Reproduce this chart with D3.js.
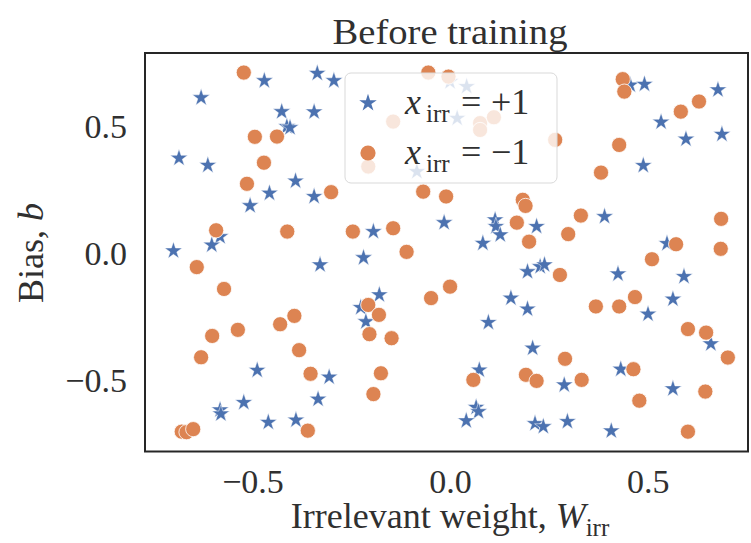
<!DOCTYPE html>
<html>
<head>
<meta charset="utf-8">
<script src="https://cdn.jsdelivr.net/npm/d3@7"></script>
<style>
  body { margin: 0; background: #fff; }
  text { font-family: "Liberation Serif", "Times New Roman", serif; fill: #303030; }
</style>
</head>
<body>
<div id="chart"></div>
<script>
// x_irr = +1 (stars)  [W_irr, b]
const plusPoints = [
  [-0.470, 0.680], [-0.336, 0.709], [-0.294, 0.680], [-0.630, 0.613], [-0.426, 0.558],
  [-0.344, 0.557], [-0.413, 0.499], [-0.405, 0.495], [-0.686, 0.375], [-0.613, 0.347],
  [-0.391, 0.285], [-0.457, 0.237], [-0.344, 0.224], [-0.506, 0.188], [-0.582, 0.066],
  [-0.603, 0.033], [-0.700, 0.010], [0.000, 0.676], [0.042, 0.657], [0.018, 0.532],
  [-0.084, 0.322], [-0.194, 0.086], [-0.015, 0.121], [0.114, 0.132], [0.116, 0.106],
  [0.127, 0.073], [0.083, 0.040], [0.219, 0.106], [0.456, 0.663], [0.492, 0.666],
  [0.678, 0.644], [0.534, 0.517], [0.597, 0.450], [0.688, 0.469], [0.489, 0.346],
  [0.391, 0.145], [0.549, 0.039], [-0.329, -0.045], [-0.488, -0.460], [-0.306, -0.487],
  [-0.334, -0.574], [-0.522, -0.587], [-0.582, -0.616], [-0.580, -0.632], [-0.460, -0.665],
  [-0.390, -0.656], [-0.219, -0.017], [0.196, -0.072], [0.228, -0.052], [0.154, -0.176],
  [0.196, -0.219], [-0.179, -0.163], [-0.226, -0.213], [-0.213, -0.269], [0.097, -0.272],
  [0.209, -0.373], [0.074, -0.459], [0.066, -0.606], [0.072, -0.623], [0.041, -0.659],
  [0.215, -0.670], [0.236, -0.682], [0.239, -0.045], [0.425, -0.081], [0.592, -0.091],
  [0.564, -0.180], [0.501, -0.239], [0.660, -0.356], [0.432, -0.456], [0.289, -0.518],
  [0.564, -0.533], [0.297, -0.662], [0.408, -0.699]
]

// x_irr = -1 (circles)
const minusPoints = [
  [-0.522, 0.712], [-0.494, 0.459], [-0.438, 0.460], [-0.471, 0.357], [-0.514, 0.274],
  [-0.301, 0.241], [-0.592, 0.091], [-0.412, 0.086], [-0.055, 0.712], [-0.004, 0.696],
  [-0.144, 0.519], [0.076, 0.513], [0.076, 0.486], [0.111, 0.536], [-0.207, 0.342],
  [0.266, 0.447], [-0.068, 0.243], [-0.010, 0.224], [0.184, 0.211], [0.191, 0.187],
  [-0.246, 0.086], [-0.144, 0.099], [0.169, 0.121], [0.200, 0.046], [-0.110, 0.006],
  [0.437, 0.686], [0.441, 0.637], [0.630, 0.598], [0.584, 0.558], [0.428, 0.427],
  [0.382, 0.318], [0.331, 0.149], [0.686, 0.136], [0.299, 0.076], [0.572, 0.036],
  [0.685, 0.018], [-0.641, -0.054], [-0.572, -0.140], [-0.394, -0.246], [-0.430, -0.279],
  [-0.537, -0.301], [-0.602, -0.325], [-0.630, -0.409], [-0.382, -0.381], [-0.353, -0.474],
  [-0.360, -0.698], [-0.679, -0.702], [-0.667, -0.704], [-0.650, -0.692], [0.000, -0.131],
  [-0.048, -0.176], [-0.207, -0.203], [-0.180, -0.242], [-0.204, -0.318], [-0.148, -0.334],
  [-0.175, -0.472], [-0.194, -0.554], [0.059, -0.498], [0.192, -0.478], [0.219, -0.502],
  [0.511, -0.023], [0.278, -0.085], [0.369, -0.209], [0.428, -0.209], [0.468, -0.172],
  [0.602, -0.298], [0.648, -0.312], [0.703, -0.410], [0.291, -0.415], [0.464, -0.456],
  [0.333, -0.498], [0.646, -0.544], [0.479, -0.580], [0.602, -0.702]
]

const xTicks = [-0.5, 0.0, 0.5]
const yTicks = [-0.5, 0.0, 0.5]
const titleText = "Before training"
const legendValues = ["+1", "\u22121"]

const width = 751
const height = 543
const margin = {top: 53, right: 3, bottom: 91.5, left: 145}

const blue = "#4c72b0"
const orange = "#dd8452"

const svg = d3.select("#chart").append("svg")
    .attr("width", width)
    .attr("height", height)

const x = d3.scaleLinear()
    .domain([-0.772, 0.754])
    .range([margin.left, width - margin.right])

const y = d3.scaleLinear()
    .domain([-0.780, 0.789])
    .range([height - margin.bottom, margin.top])

//axes, no tick marks (seaborn white style)
const fmt = d3.format(".1f")

const xAxis = svg.append("g")
    .attr("transform", `translate(0,${height - margin.bottom})`)
    .call(d3.axisBottom(x).tickValues(xTicks).tickSize(0).tickPadding(17).tickFormat(fmt))
xAxis.select(".domain").remove()

const yAxis = svg.append("g")
    .attr("transform", `translate(${margin.left},0)`)
    .call(d3.axisLeft(y).tickValues(yTicks).tickSize(0).tickPadding(18).tickFormat(fmt))
yAxis.select(".domain").remove()

svg.selectAll(".tick text")
    .attr("font-family", "Liberation Serif, serif")
    .attr("font-size", 34)
    .attr("fill", "#303030")

//points: stars first, circles on top
const star = d3.symbol(d3.symbolStar, 95)

svg.append("g")
    .selectAll("path")
    .data(plusPoints)
    .join("path")
        .attr("d", star)
        .attr("transform", d => `translate(${x(d[0])},${y(d[1])})`)
        .attr("fill", blue)
        .attr("stroke", "#fff")
        .attr("stroke-width", 0.5)

svg.append("g")
    .selectAll("circle")
    .data(minusPoints)
    .join("circle")
        .attr("cx", d => x(d[0]))
        .attr("cy", d => y(d[1]))
        .attr("r", 7.6)
        .attr("fill", orange)
        .attr("stroke", "#fff")
        .attr("stroke-width", 0.8)

//frame
svg.append("rect")
    .attr("x", x.range()[0])
    .attr("y", y.range()[1])
    .attr("width", x.range()[1] - x.range()[0])
    .attr("height", y.range()[0] - y.range()[1])
    .attr("fill", "none")
    .attr("stroke", "#262626")
    .attr("stroke-width", 2)

//legend
const legend = svg.append("g")
    .attr("transform", "translate(345,73)")

legend.append("rect")
    .attr("width", 212)
    .attr("height", 110)
    .attr("rx", 6)
    .attr("fill", "#fff")
    .attr("fill-opacity", 0.8)
    .attr("stroke", "#d9d9d9")
    .attr("stroke-width", 1)

const rows = legend.selectAll("g.row")
    .data(legendValues)
    .join("g")
        .attr("class", "row")
        .attr("transform", (d, i) => `translate(0,${30 + i * 50})`)

rows.filter((d, i) => i === 0).append("path")
    .attr("d", star)
    .attr("transform", "translate(23,0)")
    .attr("fill", blue)

rows.filter((d, i) => i === 1).append("circle")
    .attr("cx", 23)
    .attr("r", 7.6)
    .attr("fill", orange)

const lt = rows.append("text")
    .attr("y", 11)
    .attr("font-size", 36)
lt.append("tspan").attr("x", 60).attr("font-style", "italic").text("x")
lt.append("tspan").attr("x", 81).attr("dy", 8).attr("font-size", 25).text("irr")
lt.append("tspan").attr("x", 116).attr("dy", -8).text("=")
lt.append("tspan").attr("x", 146).text(d => d)

//title and axis labels
svg.append("text")
    .attr("x", 450)
    .attr("y", 44)
    .attr("text-anchor", "middle")
    .attr("font-size", 36)
    .attr("textLength", 235)
    .attr("lengthAdjust", "spacingAndGlyphs")
    .text(titleText)

const xl = svg.append("text")
    .attr("x", 450)
    .attr("y", 528)
    .attr("text-anchor", "middle")
    .attr("font-size", 36)
xl.append("tspan").text("Irrelevant weight, ")
xl.append("tspan").attr("font-style", "italic").text("W")
xl.append("tspan").attr("dy", 8).attr("font-size", 25).text("irr")

const yl = svg.append("text")
    .attr("transform", "translate(43,253) rotate(-90)")
    .attr("text-anchor", "middle")
    .attr("font-size", 36)
yl.append("tspan").text("Bias, ")
yl.append("tspan").attr("font-style", "italic").text("b")
</script>
</body>
</html>
